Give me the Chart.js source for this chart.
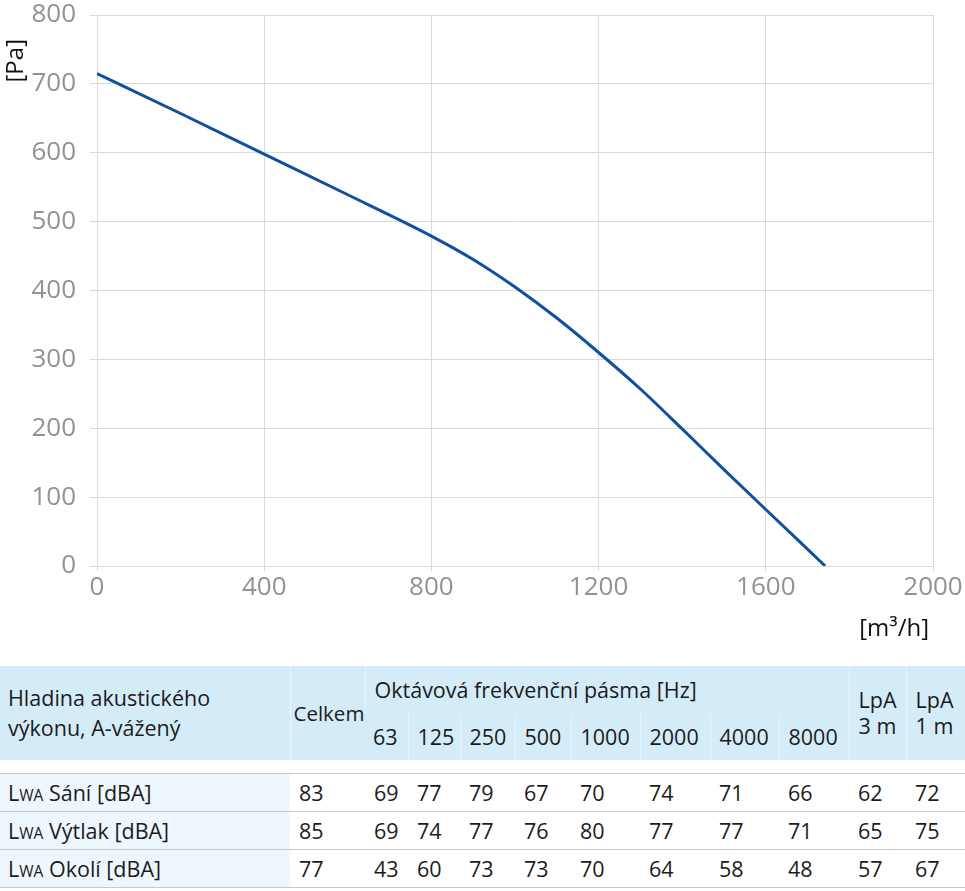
<!DOCTYPE html>
<html lang="cs">
<head>
<meta charset="utf-8">
<title>Charakteristika ventilátoru</title>
<script src="https://cdn.jsdelivr.net/npm/chart.js@4/dist/chart.umd.min.js"></script>
<style>
  body { margin: 0; background: #fff; font-family: 'Open Sans', sans-serif; }
  #wrap { position: relative; width: 965px; height: 650px; }
  table { border-collapse: collapse; table-layout: fixed; width: 965px; margin-top: 16px; font-size: 21.5px; color: #1c1c1c; }
  th { background: #d4ebf8; font-weight: normal; text-align: left; vertical-align: middle;
       padding: 0 0 0 9px; border-left: 1px solid #e8f4fc; height: 47px; line-height: 30px; white-space: nowrap; }
  th:first-child { border-left: none; padding-left: 8px; }
  th.lpa { line-height: 26px; }
  th.celkem { padding-left: 3px; font-size: 20.5px; }
  tr.gap td { height: 13px; padding: 0; border: none; }
  tbody tr.data td { height: 37px; padding: 0 0 0 9px; border-bottom: 1px solid #c9c9c9; vertical-align: middle; white-space: nowrap; }
  tbody tr.data td:first-child { background: #eef7fd; padding-left: 8px; }
  tbody tr.first td { border-top: 1px solid #c9c9c9; }
  .sub { font-size: 15.5px; }
</style>
</head>
<body>
<div id="wrap"><canvas id="chart"></canvas></div>
<table id="noise"></table>
<script>
// ─────────────────────────────────────────
// data
// ─────────────────────────────────────────

const FLOW = [0, 200, 400, 600, 800, 900, 1000, 1100, 1200, 1300, 1400, 1500, 1600, 1742];
const PRESSURE = [715, 657, 598, 539, 479, 445, 405, 360, 310, 257, 199, 140, 82, 0];

const Y_TITLE = '[Pa]';
const X_TITLE = '[m³/h]';

const BANDS = ['63', '125', '250', '500', '1000', '2000', '4000', '8000'];
const ROW_NAMES = ['Sání', 'Výtlak', 'Okolí'];
const TOTAL = [83, 85, 77];
const SANI = [69, 77, 79, 67, 70, 74, 71, 66];
const VYTLAK = [69, 74, 77, 76, 80, 77, 77, 71];
const OKOLI = [43, 60, 73, 73, 70, 64, 58, 48];
const LPA_3M = [62, 65, 57];
const LPA_1M = [72, 75, 67];

const COL_WIDTHS = [290, 75, 43, 52, 55, 56, 69, 70, 69, 70, 57, 59];

const GRID = '#d9d9d9';
const TICK = '#929292';
const LINE = '#1050a0';

// ─────────────────────────────────────────
// chart
// ─────────────────────────────────────────

const axisTitles = {
  id: 'axisTitles',
  afterDraw(chart) {
    const { ctx, chartArea } = chart;
    ctx.save();
    ctx.fillStyle = '#111';
    ctx.font = '24px "Open Sans"';
    ctx.textBaseline = 'middle';
    ctx.textAlign = 'right';

    ctx.save();
    ctx.translate(16, chartArea.top + 24);
    ctx.rotate(-Math.PI / 2);
    ctx.fillText(Y_TITLE, 0, 0);
    ctx.restore();

    ctx.fillText(X_TITLE, chartArea.right - 4, chartArea.bottom + 63);
    ctx.restore();
  },
};

const tickFont = { family: 'Open Sans', size: 26 };

new Chart(document.getElementById('chart'), {
  type: 'line',
  data: {
    datasets: [{
      data: FLOW.map((x, i) => ({ x, y: PRESSURE[i] })),
      borderColor: LINE,
      borderWidth: 3,
      pointRadius: 0,
      cubicInterpolationMode: 'monotone',
      fill: false,
    }],
  },
  options: {
    responsive: true,
    maintainAspectRatio: false,
    animation: false,
    layout: { padding: { top: 0, right: 32, left: 0, bottom: 0 } },
    plugins: { legend: { display: false }, tooltip: { enabled: false } },
    scales: {
      x: {
        type: 'linear', min: 0, max: 2000,
        ticks: { stepSize: 400, color: TICK, font: tickFont, padding: 1, callback: v => String(v) },
        grid: { color: GRID, tickLength: 5 },
        border: { color: GRID },
        afterFit: s => { s.height = 84; },
      },
      y: {
        min: 0, max: 800,
        ticks: { stepSize: 100, color: TICK, font: tickFont, padding: 14 },
        grid: { color: GRID, tickLength: 7 },
        border: { color: GRID },
        afterFit: s => { s.width = 97; s.paddingTop = 15; s.paddingBottom = 0; },
      },
    },
  },
  plugins: [axisTitles],
});

// ─────────────────────────────────────────
// table
// ─────────────────────────────────────────

function buildTable() {
  const series = [SANI, VYTLAK, OKOLI];
  let html = '<colgroup>' + COL_WIDTHS.map(w => `<col style="width:${w}px">`).join('') + '</colgroup>';
  html += '<thead><tr>'
    + '<th rowspan="2">Hladina akustického<br>výkonu, A-vážený</th>'
    + '<th rowspan="2" class="celkem">Celkem</th>'
    + `<th colspan="${BANDS.length}">Oktávová frekvenční pásma [Hz]</th>`
    + '<th rowspan="2" class="lpa">LpA<br>3 m</th>'
    + '<th rowspan="2" class="lpa">LpA<br>1 m</th>'
    + '</tr><tr>'
    + BANDS.map(b => `<th>${b}</th>`).join('')
    + '</tr></thead>';
  html += '<tbody><tr class="gap"><td colspan="12"></td></tr>';
  ROW_NAMES.forEach((name, i) => {
    html += `<tr class="data${i === 0 ? ' first' : ''}">`
      + `<td>L<span class="sub">WA</span> ${name} [dBA]</td>`
      + `<td>${TOTAL[i]}</td>`
      + series[i].map(v => `<td>${v}</td>`).join('')
      + `<td>${LPA_3M[i]}</td><td>${LPA_1M[i]}</td></tr>`;
  });
  html += '</tbody>';
  document.getElementById('noise').innerHTML = html;
}

buildTable();
</script>
</body>
</html>
